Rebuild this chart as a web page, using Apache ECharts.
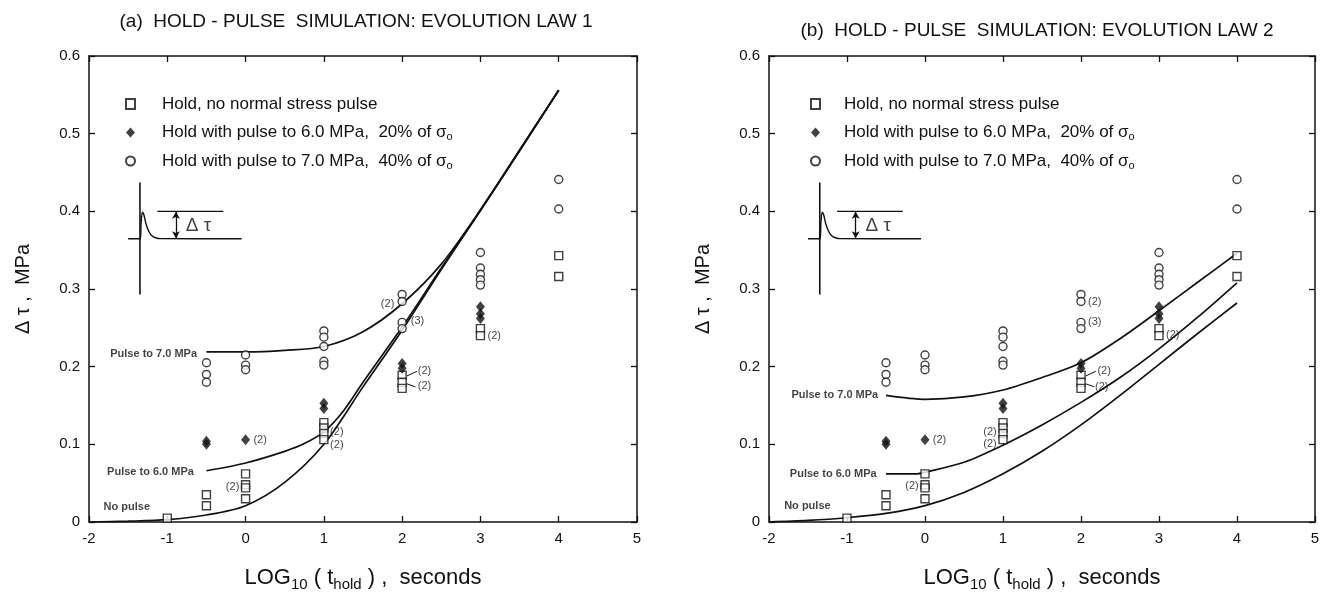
<!DOCTYPE html>
<html>
<head>
<meta charset="utf-8">
<script src="https://cdn.jsdelivr.net/npm/echarts@6/dist/echarts.min.js"></script>
<style>
  html, body { margin: 0; padding: 0; background: #fff; }
  #chart { width: 1327px; height: 597px; }
</style>
</head>
<body>
<div id="chart"></div>
<script>
// ---- measured hold-pulse data (shared by both panels) ----
const holdNoPulse = [[-1,0.005],[-0.5,0.035],[-0.5,0.021],[0,0.062],[0,0.048],[0,0.044],[0,0.030],
  [1,0.128],[1,0.121],[1,0.114],[1,0.106],[2,0.189],[2,0.180],[2,0.172],[3,0.249],[3,0.240],[4,0.343],[4,0.316]];
const holdPulse6 = [[-0.5,0.104],[-0.5,0.100],[0,0.106],[1,0.153],[1,0.146],[2,0.204],[2,0.198],
  [3,0.277],[3,0.268],[3,0.262]];
const holdPulse7 = [[-0.5,0.205],[-0.5,0.190],[-0.5,0.180],[0,0.215],[0,0.202],[0,0.196],
  [1,0.246],[1,0.238],[1,0.226],[1,0.207],[1,0.202],[2,0.293],[2,0.284],[2,0.257],[2,0.249],
  [3,0.347],[3,0.327],[3,0.319],[3,0.312],[3,0.305],[4,0.441],[4,0.403]];

// ---- simulated curves, evolution law 1 ----
const law1NoPulse = [[-2,0],[-1.5,0.001],[-1,0.003],[-0.5,0.009],[0,0.021],[0.5,0.051],[1,0.100],
  [1.5,0.174],[2,0.247],[2.5,0.325],[3,0.401],[3.5,0.478],[4,0.556]];
const law1Pulse6 = [[-0.5,0.066],[0,0.076],[0.5,0.091],[0.75,0.101],[1,0.116],[1.25,0.143],[1.5,0.180],
  [2,0.251],[2.5,0.327],[3,0.401],[3.5,0.478],[4,0.556]];
const law1Pulse7 = [[-0.5,0.219],[0,0.219],[0.5,0.221],[1,0.226],[1.5,0.245],[2,0.281],[2.5,0.332],
  [3,0.402],[3.5,0.479],[4,0.556]];

// ---- simulated curves, evolution law 2 ----
const law2NoPulse = [[-2,0],[-1.5,0.002],[-1,0.0055],[-0.5,0.011],[0,0.021],[0.5,0.038],[1,0.062],
  [1.5,0.091],[2,0.125],[2.5,0.163],[3,0.203],[3.5,0.243],[4,0.282]];
const law2Pulse6 = [[-0.5,0.062],[-0.1,0.062],[0,0.064],[0.5,0.077],[1,0.099],[1.5,0.125],[2,0.154],
  [2.5,0.186],[3,0.223],[3.5,0.264],[4,0.308]];
const law2Pulse7 = [[-0.5,0.163],[0,0.158],[0.5,0.161],[1,0.170],[1.5,0.186],[2,0.205],[2.5,0.236],
  [3,0.272],[3.5,0.309],[4,0.346]];

// ---- curve names written beside each curve start ----
const curveNames1 = [[-0.62,0.216,'Pulse to 7.0 MPa'],[-0.66,0.065,'Pulse to 6.0 MPa'],[-1.22,0.019,'No pulse']];
const curveNames2 = [[-0.60,0.164,'Pulse to 7.0 MPa'],[-0.62,0.062,'Pulse to 6.0 MPa'],[-1.21,0.020,'No pulse']];

// ---- repeat counts beside overlapping points ----
const counts1 = [[0.10,0.106,'(2)','right'],[-0.08,0.045,'(2)','left'],[1.08,0.116,'(2)','right'],
  [1.08,0.099,'(2)','right'],[1.90,0.281,'(2)','left'],[2.11,0.259,'(3)','right'],
  [2.20,0.194,'(2)','right'],[2.20,0.175,'(2)','right'],[3.09,0.239,'(2)','right']];
const counts2 = [[0.10,0.106,'(2)','right'],[-0.08,0.046,'(2)','left'],[0.92,0.116,'(2)','left'],
  [0.92,0.101,'(2)','left'],[2.09,0.283,'(2)','right'],[2.09,0.257,'(3)','right'],
  [2.21,0.194,'(2)','right'],[2.18,0.174,'(2)','right'],[3.09,0.241,'(2)','right']];
const leaders = [[[2.06,0.188],[2.19,0.194]],[[2.06,0.178],[2.17,0.174]]];

// ---- inset sketch of a shear-stress trace and its peak height ----
const insetAxis = [[-1.349,0.293],[-1.349,0.437]];
const insetTrace = [[-1.50,0.3647],[-1.345,0.3647],[-1.335,0.384],[-1.318,0.399],[-1.300,0.396],
  [-1.275,0.385],[-1.24,0.375],[-1.20,0.369],[-1.15,0.366],[-1.08,0.3648],[-0.05,0.3647]];
const insetTop = [[-1.128,0.400],[-0.285,0.400]];
const insetArrow = [[-0.889,0.3995],[-0.889,0.3652]];
const insetText = [-0.60,0.381,'\u0394 \u03c4'];

const legendNames = ['Hold, no normal stress pulse',
  'Hold with pulse to 6.0 MPa,  20% of \u03c3o',
  'Hold with pulse to 7.0 MPa,  40% of \u03c3o'];

const FONT = 'Liberation Sans, Arial, sans-serif';
const INK = '#111';

function axisBase(extra) {
  return Object.assign({
    type: 'value',
    axisLine: { show: true, onZero: false, lineStyle: { color: INK, width: 1.5 } },
    axisTick: { show: true, inside: true, length: 6, lineStyle: { color: INK, width: 1.3 } },
    splitLine: { show: false },
    axisLabel: { color: INK, fontSize: 15, fontFamily: FONT, margin: 9 }
  }, extra);
}

function xAxes(grid) {
  return [
    axisBase({ gridIndex: grid, min: -2, max: 5, interval: 1, position: 'bottom',
      name: 'LOG{s|10} ( t{h|hold} ) ,  seconds', nameLocation: 'middle', nameGap: 42,
      nameTextStyle: { color: INK, fontSize: 22, fontFamily: FONT, lineHeight: 28,
        rich: { s: { fontSize: 15, lineHeight: 15, verticalAlign: 'bottom', fontFamily: FONT, color: INK },
                h: { fontSize: 15, lineHeight: 13, verticalAlign: 'bottom', fontFamily: FONT, color: INK } } } }),
    axisBase({ gridIndex: grid, min: -2, max: 5, interval: 1, position: 'top', axisLabel: { show: false } })
  ];
}
function yAxes(grid) {
  return [
    axisBase({ gridIndex: grid, min: 0, max: 0.6, interval: 0.1, position: 'left',
      name: '\u0394 \u03c4 ,  MPa', nameLocation: 'middle', nameGap: 56, nameRotate: 90,
      nameTextStyle: { color: INK, fontSize: 20, fontFamily: FONT } }),
    axisBase({ gridIndex: grid, min: 0, max: 0.6, interval: 0.1, position: 'right', axisLabel: { show: false } })
  ];
}

function curve(data, ai) {
  return { type: 'line', data: data, xAxisIndex: ai, yAxisIndex: ai, symbol: 'none',
    smooth: 0.3, z: 2, silent: true,
    lineStyle: { color: INK, width: 1.7 } };
}
function plainLine(data, ai, w) {
  return { type: 'line', data: data, xAxisIndex: ai, yAxisIndex: ai, symbol: 'none', z: 2, silent: true,
    lineStyle: { color: INK, width: w } };
}
function marks(ai) {
  return [
    { type: 'scatter', name: legendNames[0], data: holdNoPulse, xAxisIndex: ai, yAxisIndex: ai,
      symbol: 'rect', symbolSize: 8, z: 5,
      itemStyle: { color: '#fff', borderColor: INK, borderWidth: 1.4 } },
    { type: 'scatter', name: legendNames[1], data: holdPulse6, xAxisIndex: ai, yAxisIndex: ai,
      symbol: 'diamond', symbolSize: [9, 11], z: 5,
      itemStyle: { color: INK, borderColor: INK, borderWidth: 0 } },
    { type: 'scatter', name: legendNames[2], data: holdPulse7, xAxisIndex: ai, yAxisIndex: ai,
      symbol: 'circle', symbolSize: 8, z: 5,
      itemStyle: { color: '#fff', borderColor: INK, borderWidth: 1.4 } }
  ];
}
function textSeries(items, ai, font) {
  return { type: 'scatter', xAxisIndex: ai, yAxisIndex: ai, symbolSize: 0, z: 6, silent: true,
    data: items.map(t => ({ value: [t[0], t[1]], name: t[2],
      label: { show: true, position: t[3] || 'left', distance: 0, formatter: '{b}',
        color: INK, fontFamily: FONT, fontSize: font.size, fontWeight: font.weight } })) };
}
function inset(ai) {
  return [
    plainLine(insetAxis, ai, 1.6),
    Object.assign(plainLine(insetTrace, ai, 1.4), { smooth: 0.3 }),
    plainLine(insetTop, ai, 1.2),
    { type: 'line', data: [], xAxisIndex: ai, yAxisIndex: ai, silent: true,
      markLine: { silent: true, symbol: ['arrow', 'arrow'], symbolSize: [6, 7], animation: false,
        label: { show: false }, lineStyle: { color: INK, width: 1.3, type: 'solid' },
        data: [[{ coord: insetArrow[0] }, { coord: insetArrow[1] }]] } },
    textSeries([[insetText[0], insetText[1], insetText[2], 'inside']], ai, { size: 19, weight: 'normal' })
  ];
}

function panel(ai, curves, names, counts) {
  const list = curves.map(c => curve(c, ai));
  list.push(...marks(ai));
  list.push(textSeries(names, ai, { size: 11, weight: 'bold' }));
  list.push(textSeries(counts, ai, { size: 11, weight: 'normal' }));
  leaders.forEach(l => list.push(plainLine(l, ai, 1)));
  list.push(...inset(ai));
  return list;
}

function legendAt(left, gap) {
  return {
    left: left, top: 89, orient: 'vertical', itemWidth: 9, itemHeight: 10, itemGap: 8.5,
    selectedMode: false, data: legendNames,
    formatter: function (n) {
      const m = n.match(/^(.*)\u03c3o$/);
      return '{g|}' + (m ? m[1] + '\u03c3{o|o}' : n);
    },
    textStyle: { color: INK, fontSize: 17, fontFamily: FONT, lineHeight: 20,
      rich: { g: { width: gap }, o: { fontSize: 11, lineHeight: 12, verticalAlign: 'bottom', color: INK, fontFamily: FONT } } }
  };
}

const chart = echarts.init(document.getElementById('chart'), null, { renderer: 'canvas' });
chart.setOption({
  animation: false,
  backgroundColor: '#fff',
  title: [
    { text: '(a)  HOLD - PULSE  SIMULATION: EVOLUTION LAW 1', left: 351, top: 7, textAlign: 'center',
      textStyle: { color: INK, fontSize: 19, fontWeight: 'normal', fontFamily: FONT } },
    { text: '(b)  HOLD - PULSE  SIMULATION: EVOLUTION LAW 2', left: 1032, top: 16, textAlign: 'center',
      textStyle: { color: INK, fontSize: 19, fontWeight: 'normal', fontFamily: FONT } }
  ],
  legend: [legendAt(120, 22), legendAt(805, 19)],
  grid: [
    { left: 89, top: 56, width: 548, height: 472 },
    { left: 769, top: 56, width: 546, height: 473 }
  ],
  xAxis: xAxes(0).concat(xAxes(1)),
  yAxis: yAxes(0).concat(yAxes(1)),
  series: [].concat(
    panel(0, [law1NoPulse, law1Pulse6, law1Pulse7], curveNames1, counts1),
    panel(2, [law2NoPulse, law2Pulse6, law2Pulse7], curveNames2, counts2)
  )
});
</script>
</body>
</html>
